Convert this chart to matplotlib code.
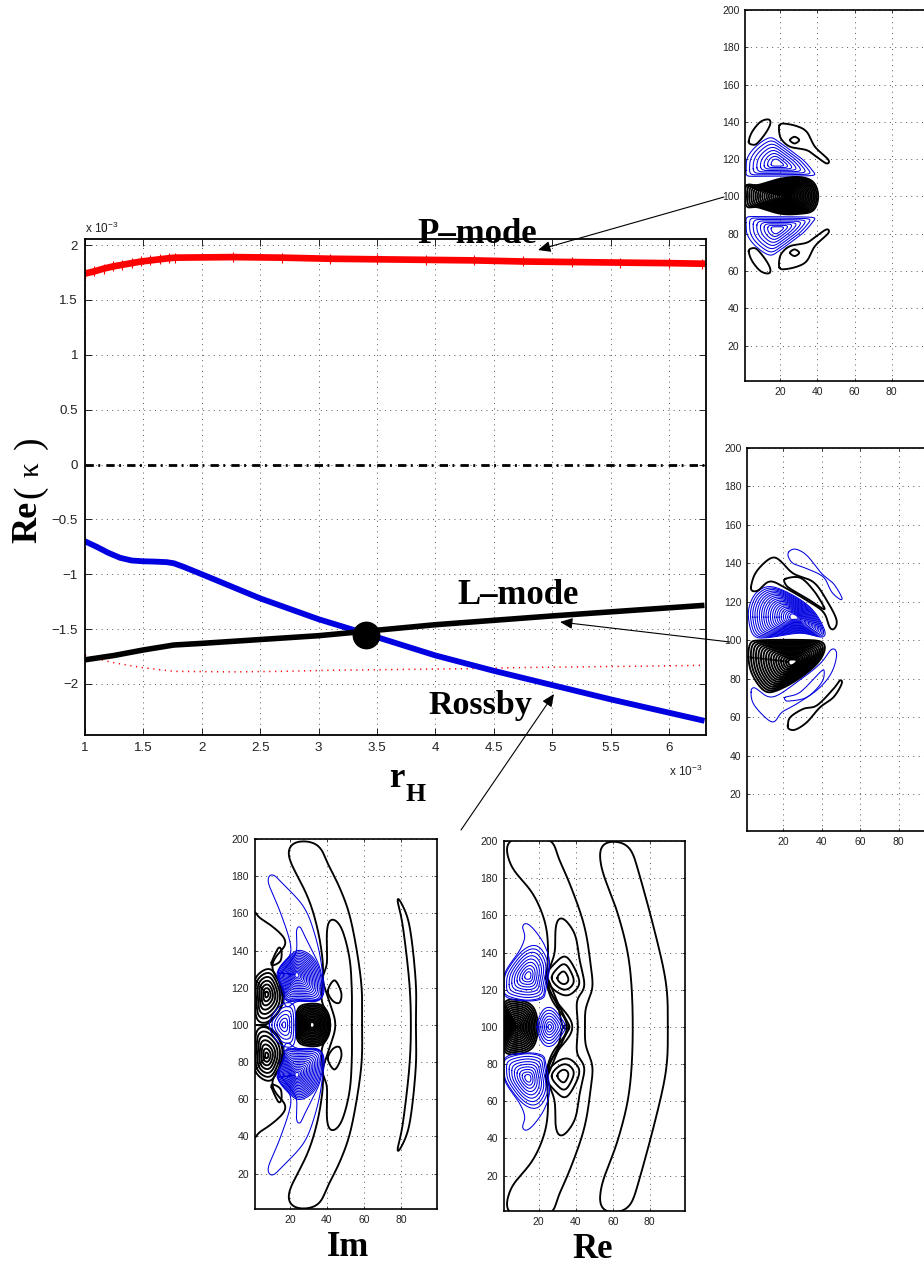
import numpy as np
import matplotlib
matplotlib.use("Agg")
import matplotlib.pyplot as plt
from matplotlib.patches import FancyArrowPatch

plt.rcParams['font.family'] = ['Liberation Sans', 'DejaVu Sans']
plt.rcParams['mathtext.fontset'] = 'custom'
plt.rcParams['mathtext.rm'] = 'Liberation Sans'
plt.rcParams['mathtext.default'] = 'regular'

# ---- main panel data (r_H in units of 1e-3, Re(kappa) in units of 1e-3)
p_r = [1.0, 1.08, 1.16, 1.24, 1.32, 1.40, 1.48, 1.56, 1.64, 1.72, 1.77, 2.27, 2.69, 3.10, 3.50,
       3.92, 4.33, 4.75, 5.17, 5.58, 6.00, 6.28]
p_k = [1.74, 1.76, 1.785, 1.805, 1.82, 1.835, 1.85, 1.86, 1.87, 1.88, 1.885, 1.89, 1.885, 1.875, 1.87,
       1.865, 1.86, 1.85, 1.845, 1.84, 1.835, 1.83]
rossby_r = [1.0, 1.1, 1.2, 1.3, 1.4, 1.5, 1.6, 1.7, 1.76, 1.85, 2.0, 2.5, 3.0, 3.4, 4.0, 4.5, 5.0, 5.5, 6.28]
rossby_k = [-0.70, -0.75, -0.805, -0.85, -0.875, -0.882, -0.885, -0.89, -0.90, -0.935, -1.00, -1.22, -1.41, -1.54,
            -1.74, -1.88, -2.01, -2.14, -2.33]
lmode_r = [1.0, 1.25, 1.5, 1.76, 2.0, 3.0, 3.4, 4.0, 5.0, 6.28]
lmode_k = [-1.78, -1.74, -1.69, -1.645, -1.63, -1.56, -1.52, -1.46, -1.38, -1.285]
cross_r = [3.405]
cross_k = [-1.55]
main_xticks = [1, 1.5, 2, 2.5, 3, 3.5, 4, 4.5, 5, 5.5, 6]
main_yticks = [-2, -1.5, -1, -0.5, 0, 0.5, 1, 1.5, 2]
panel_xticks = [20, 40, 60, 80]
panel_yticks = [20, 40, 60, 80, 100, 120, 140, 160, 180, 200]

# ---- contour outlines (x, y)
P_tip = [(3.0,129.3),(4.8,134.6),(9.3,140),(13.75,141.3),(14.6,138.8),(12,133.8),(7.5,128.4),(4.8,127.8)]
P_wing = [(19.5,138.2),(21.8,139.1),(28.9,137.7),(34.3,134.6),(38.7,126.6),(45.9,119.7),(45,117.6),(39.6,121.2),
          (34.3,124.8),(25.4,126.6),(20.9,130.2),(19.5,133.8)]
P_dot = [(25.2,130.2),(27.7,132),(30.2,130.2),(27.7,128.4)]
P_blue = [(1.6,114),(2.1,120.3),(6.6,126.6),(14.3,131.6),(19.1,129.3),(25.4,124.8),(32.5,119.4),(37.9,113.1),
          (37.9,111.3),(21.8,110.9),(4,110.8),(1.6,111.3)]
P_core = [(1.6,106),(7.5,106),(20,109.5),(30.7,110.4),(37.9,107.7),(40.5,100),(37.9,92.5),(30.7,90.7),(20,90.7),
          (7.5,94.3),(1.6,94.6)]

L_black_c = [(3.0,127.7),(5.2,134.7),(10.4,140.7),(15.1,143.3),(19.1,140.7),(25.2,134.7),(35.7,130.3),(42.6,120.8),
             (47.8,110.4),(46.1,105.5),(44,106.9),(40.9,114.7),(32.2,120.8),(21.7,126.9),(13,130.8),(7,126),(3.5,125.6)]
L_black_in = [(20.9,132),(28.7,132.6),(35.7,126),(41.2,117.3),(40.5,116.5),(33.9,120.8),(23.5,126.9),(20.9,129.5)]
L_blue_top = [(22.6,145.9),(26.1,147.5),(32.2,144.2),(40,134.7),(46.1,129.5),(50.4,122.5),(49.9,121.1),(45.2,125.1),
              (40.9,132.9),(32.2,137.3),(25.2,139.9),(22.6,143.3)]
L_blue_big = [(1.7,112.1),(2.6,119.1),(6.1,125.1),(13,128.1),(23.5,124.3),(33.9,117.3),(40,108.7),(41.2,101.7),
              (28.7,103.8),(11.3,101.4),(4.3,102.6)]
L_black_big = [(1.7,91.3),(2.6,98.3),(6.1,100),(28.7,100.3),(40.5,99.1),(40.9,93.1),(35.7,86.1),(25.2,78.3),
               (13.9,73.1),(8.7,74.9),(3.5,82.7)]
L_blue_c = [(3.1,73.1),(4.7,75.7),(13.9,70.5),(27,78.3),(39.1,87.9),(45.2,95.7),(47.8,93.1),(45.2,83.5),(38.3,74.9),
            (27,67.1),(19.1,62.7),(15.1,57.5),(10.4,60.1),(4.3,67.1)]
L_blue_in = [(20.9,70.5),(28.7,73.1),(39.1,83.5),(41.2,84.4),(40,78.3),(32.2,70.5),(22.6,68.5),(20.9,69.2)]
L_black_low = [(22.3,55.8),(23.5,60.1),(30.4,64.5),(37.4,66.2),(46.1,74.9),(49.6,79.5),(50.4,77.5),(46.1,70.5),
               (39.1,65.3),(32.2,57.5),(26.1,53.6),(22.6,54.1)]

Im_arc = [(58.9,100),(58.4,123.7),(53,156),(46.8,174),(39.6,188.3),(37,195.5),(31.6,198.6),(22.7,198.6),(19.1,195.5),
          (20,188.3),(29.8,168.6),(35.2,150.6),(37.9,132.7),(37.5,120.1),(36.6,112),(40.5,106.6),(42.3,100)]
Im_c = [(53.4,100),(53.4,118.3),(52.1,136.3),(47.7,152.4),(42.3,157.3),(40,150.6),(40,132.7),(37.5,125.5),(40,116.5),
        (44.1,104),(44.5,100)]
Im_small_r = [(40.5,118.3),(44.1,124),(47.7,117.4),(46.8,112),(43.2,112.9)]
Im_crescent = [(87.9,100),(87.8,123.7),(84.3,154.2),(78.9,167.7),(77.7,167.7),(80.7,154.2),(84.3,123.7),(85.2,100)]
Im_left = [(0,153.3),(3,157.5),(10.2,153.3),(17.3,146.7),(17.9,142.5),(14.3,139),(10.2,130.9),(16.8,118.3),(15.5,109.3),
           (9.3,101.3),(8.4,100),(0,100)]
Im_lobe = [(1.3,124.6),(9.6,130),(15.5,119.2),(15,109.3),(8.4,101.8),(3,102.2),(1.3,109.3)]
Im_small_l = [(10.2,133.6),(13.8,141.3),(15.5,139.9),(15,134.5),(11.1,132.1)]
Im_core = [(23.2,100),(23.9,107.5),(27.1,110.8),(36.1,111.1),(40.5,106.6),(41.8,100)]
Im_blue_arm = [(13.8,129.1),(20,137.2),(20,145.2),(14.6,161.4),(8.9,174.9),(8.4,179.4),(10.7,181.1),(15.5,176.7),
               (27.1,164.1),(32.9,150.6),(37,132.7),(37.5,114.7),(23.6,112.6),(18.2,109.3),(15.5,118.3)]
Im_blue_arm2 = [(20,133.6),(23.6,139.9),(23.6,150.6),(25.4,153),(28,147.9),(31.6,140.8),(36.6,129.1),(37,114.7),
                (23.6,113.3),(16.4,114.7),(14.3,125.5)]
Im_blue_lobe = [(13.2,128.2),(20,137.2),(25.4,140.2),(32.5,136.3),(36.4,127.3),(36.6,113.8),(24.5,112.9),(18.2,112.9),
                (16.1,119.2)]
Im_blue_mid = [(8.9,100),(14.6,110.2),(21.8,111.1),(23.2,100)]

Re_arc3 = [(89.7,100),(88.8,123.3),(82.5,152),(72.6,188),(69,196.9),(63.6,199.6),(54.7,199.1),(52.9,193.4),(54.7,182.6),
           (62.7,161),(69,134.1),(70.8,100)]
Re_arc2 = [(45.1,100),(45.1,110.8),(49.3,119.7),(48.4,130.5),(44.8,153.9),(36.7,177.2),(29.5,193.4),(26.8,201),(4.4,201),
           (2.9,193.4),(6.2,184.4),(16.9,171.8),(24.1,153.9),(25,134.1),(23.8,126.9),(26.8,114.4),(34,105.4),(36.2,100)]
Re_c = [(41.2,100),(40.6,114.4),(44.8,121.5),(42.1,135.9),(39.4,150.3),(32.2,159.2),(29.2,153.9),(28.6,139.5),(24.5,126.9),
        (27.7,116.2),(38.5,100)]
Re_ring = [(23.8,126.9),(29.5,135),(34.9,137.7),(40.3,129.6),(41.7,122.4),(35.8,117),(28.6,119.7)]
Re_hug = [(24.5,126.9),(29.9,114),(34,105.4),(36.7,100),(33.1,100),(30.4,110.8),(25.9,119.7)]
Re_core = [(0.8,111.7),(8.9,114.4),(17,110.8),(19.6,100)]
Re_blue_mid = [(19.1,100),(22.3,109),(27.7,109.9),(34,101.8),(34,100)]
Re_blue_lobe = [(1.3,121.5),(2.6,129.6),(11.6,141.3),(19.6,143.4),(25,134.1),(23.2,121.5),(22,116.2),(13.4,114.4),(2.6,117)]
Re_blue_arm = [(1.7,128.7),(9.8,141.3),(12.5,148.5),(11.2,153.9),(13.4,155.7),(17.8,152),(23.2,143.9),(25.9,134.1),
               (23.8,119.7),(22,115.3),(13.4,114),(1.7,116.8)]

BLACK, BLUE = 'black', '#0000e0'
W, H = 924, 1265
fig = plt.figure(figsize=(W / 100, H / 100), dpi=100, facecolor='white')


def make_axes(left, right, top, bottom):
    return fig.add_axes([left / W, 1 - bottom / H, (right - left) / W, (bottom - top) / H])


def smooth(points):
    """Closed Catmull-Rom curve through an outline, resampled evenly along its length."""
    p = np.asarray(points, float)
    t = np.linspace(0, 1, 14, endpoint=False)[:, None]
    out = []
    for i in range(len(p)):
        a, b, c, d = p[i - 1], p[i], p[(i + 1) % len(p)], p[(i + 2) % len(p)]
        out.append(0.5 * (2 * b + (c - a) * t + (2 * a - 5 * b + 4 * c - d) * t ** 2 + (3 * b - a - 3 * c + d) * t ** 3))
    out = np.vstack(out)
    out = np.vstack([out, out[:1]])
    s = np.r_[0, np.cumsum(np.hypot(*np.diff(out, axis=0).T))]
    u = np.linspace(0, s[-1], 401)[:-1]
    return np.c_[np.interp(u, s, out[:, 0]), np.interp(u, s, out[:, 1])]


def round_off(curve, share):
    """Periodic running mean over a share of the perimeter, to round the corners of the hand-read outline."""
    n = max(3, int(share * len(curve)) | 1)
    win = np.hanning(n + 2)[1:-1]
    win /= win.sum()
    f = np.fft.rfft(np.r_[win, np.zeros(len(curve) - n)])
    x = np.fft.irfft(np.fft.rfft(curve[:, 0]) * f, len(curve))
    y = np.fft.irfft(np.fft.rfft(curve[:, 1]) * f, len(curve))
    k = n // 2
    out = np.c_[np.roll(x, -k), np.roll(y, -k)]
    return np.vstack([out, out[:1]])


def flip(points):
    return [(x, 200 - y) for x, y in points]


def mirror_closed(points):
    lower = [q for q in flip(points)[::-1] if q[1] != 100]
    return list(points) + lower


def draw(ax, points, color, center=None, rings=1, fmin=0.1):
    lw = 1.35 if color == BLACK else 0.75
    curve = smooth(points)
    if center is None:
        c2 = round_off(curve, 0.04)
        ax.plot(c2[:, 0], c2[:, 1], color=color, lw=lw)
        return
    c = np.asarray(center, float)
    for f in np.linspace(1, fmin, rings):
        ring = round_off(c + f * (curve - c), 0.06 + 0.3 * (1 - f))
        ax.plot(ring[:, 0], ring[:, 1], color=color, lw=lw)


def panel(left, right, top, bottom):
    ax = make_axes(left, right, top, bottom)
    ax.set_xlim(1, 99)
    ax.set_ylim(1, 200)
    ax.set_xticks(panel_xticks)
    ax.set_yticks(panel_yticks)
    ax.tick_params(direction='in', length=2.5, width=0.6, top=True, right=True, labelsize=7.5, pad=4, colors='#222222')
    ax.grid(True, ls=(0, (1, 4.5)), color='#555555', lw=0.7)
    for s in ax.spines.values():
        s.set_linewidth(1.2)
    ax.set_axisbelow(True)
    return ax


# ---- main axes
ax = make_axes(85, 706, 239, 735)
ax.set_xlim(1, 6.317)
ax.set_ylim(-2.465, 2.055)
ax.set_xticks(main_xticks)
ax.set_xticklabels([f'{v:g}' for v in main_xticks])
ax.set_yticks(main_yticks)
ax.set_yticklabels([f'{v:g}'.replace('-', '\u2212') for v in main_yticks])
ax.tick_params(direction='in', length=5, width=0.7, top=True, right=True, labelsize=9.6, pad=5, colors='#222222')
ax.grid(True, ls=(0, (1, 4.5)), color='#555555', lw=0.7)
ax.set_axisbelow(True)
for s in ax.spines.values():
    s.set_linewidth(1.3)
ax.axhline(0, color='black', lw=2.0, ls=(0, (3, 1.6, 0.7, 2.2)))
ax.plot(p_r, [-v for v in p_k], color='red', lw=1.1, ls=(0, (0.8, 3)))
ax.plot(p_r, p_k, color='red', lw=4.8, marker='+', ms=7, mew=0.8)
ax.plot(rossby_r, rossby_k, color=BLUE, lw=4.2)
ax.plot(lmode_r, lmode_k, color='black', lw=4.0)
ax.plot(cross_r, cross_k, 'o', color='black', ms=19)

# ---- P-mode panel
a1 = panel(745, 927, 10, 381)
for outline, col, c, n in [(P_blue, BLUE, (18.2, 117.6), 8), (flip(P_blue), BLUE, (18.2, 82.4), 8),
                           (P_tip, BLACK, None, 1), (flip(P_tip), BLACK, None, 1),
                           (P_wing, BLACK, None, 1), (flip(P_wing), BLACK, None, 1),
                           (P_dot, BLACK, None, 1), (flip(P_dot), BLACK, None, 1),
                           (P_core, BLACK, (24, 100), 20)]:
    draw(a1, outline, col, c, n, 0.05 if outline is P_core else 0.2)

# ---- L-mode panel
a2 = panel(747, 935, 448, 831)
draw(a2, L_blue_big, BLUE, (26.1, 112.1), 20, 0.12)
draw(a2, L_black_big, BLACK, (25.2, 88.7), 17, 0.12)
for outline, col in [(L_black_c, BLACK), (L_black_in, BLACK), (L_blue_top, BLUE), (L_blue_c, BLUE),
                     (L_blue_in, BLUE), (L_black_low, BLACK)]:
    draw(a2, outline, col)

# ---- Rossby Im panel
a3 = panel(254.5, 436.5, 839, 1209)
for half, col in [(Im_arc, BLACK), (Im_c, BLACK), (Im_crescent, BLACK), (Im_left, BLACK)]:
    draw(a3, mirror_closed(half), col)
for lobe, col in [(Im_small_r, BLACK), (Im_small_l, BLACK), (Im_blue_arm, BLUE), (Im_blue_arm2, BLUE)]:
    draw(a3, lobe, col)
    draw(a3, flip(lobe), col)
draw(a3, Im_lobe, BLACK, (7.5, 116.5), 7, 0.12)
draw(a3, flip(Im_lobe), BLACK, (7.5, 83.5), 7, 0.12)
draw(a3, Im_blue_lobe, BLUE, (23.6, 127), 16, 0.1)
draw(a3, flip(Im_blue_lobe), BLUE, (23.6, 73), 16, 0.1)
draw(a3, mirror_closed(Im_core), BLACK, (32, 100), 13, 0.14)
draw(a3, mirror_closed(Im_blue_mid), BLUE, (16.8, 100), 6, 0.15)

# ---- Rossby Re panel
a4 = panel(503.5, 685, 841, 1211)
for half, col in [(Re_arc3, BLACK), (Re_arc2, BLACK), (Re_c, BLACK)]:
    draw(a4, mirror_closed(half), col)
draw(a4, Re_ring, BLACK, (33.1, 126), 3, 0.35)
draw(a4, flip(Re_ring), BLACK, (33.1, 74), 3, 0.35)
draw(a4, Re_hug, BLACK)
draw(a4, flip(Re_hug), BLACK)
draw(a4, mirror_closed(Re_core), BLACK, (8, 100), 14, 0.06)
draw(a4, mirror_closed(Re_blue_mid), BLUE, (25.9, 100), 7, 0.14)
for lobe, col, c, n in [(Re_blue_lobe, BLUE, (14.3, 127.5), 9), (Re_blue_arm, BLUE, None, 1)]:
    draw(a4, lobe, col, c, n, 0.15)
    draw(a4, flip(lobe), col, None if c is None else (c[0], 200 - c[1]), n, 0.15)


def txt(x, y, s, size, **kw):
    kw.setdefault('family', ['Liberation Serif', 'DejaVu Serif'])
    kw.setdefault('weight', 'bold')
    kw.setdefault('ha', 'left')
    kw.setdefault('va', 'baseline')
    return fig.text(x / W, 1 - y / H, s, fontsize=size, **kw)


txt(417, 243, 'P\u2013mode', 25)
txt(457, 604, 'L\u2013mode', 25)
txt(428, 714, 'Rossby', 24.5)
side = dict(rotation=90, ha='center', va='center')
txt(28, 522, 'Re', 26, **side)
txt(30, 492, '(', 27, weight='normal', **side)
txt(31, 470, '\u03ba', 21, weight='normal', **side)
txt(30, 443, ')', 27, weight='normal', **side)
txt(389, 787, 'r', 25)
txt(406, 801, 'H', 18.5)
txt(327, 1256, 'Im', 25)
txt(572, 1258, 'Re', 25)
sci = dict(family=['Liberation Sans', 'DejaVu Sans'], weight='normal', va='center', color='#222222')
txt(85, 228, r'x 10$^{-3}$', 8.5, **sci)
txt(669, 771, r'x 10$^{-3}$', 8.5, **sci)

for start, end in [((724, 197), (538, 250)), ((730, 642), (560, 622)), ((461, 830), (554, 694))]:
    fig.add_artist(FancyArrowPatch((start[0] / W, 1 - start[1] / H), (end[0] / W, 1 - end[1] / H),
                                   transform=fig.transFigure, arrowstyle='-|>,head_length=5,head_width=2.2',
                                   shrinkA=0, shrinkB=0, lw=0.8, color='black', mutation_scale=1.5))

fig.savefig('out.png', dpi=100)
